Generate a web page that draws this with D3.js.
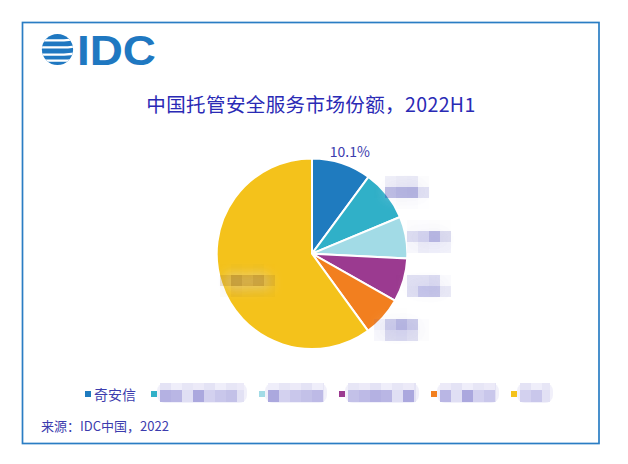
<!DOCTYPE html>
<html>
<head>
<meta charset="utf-8">
<script src="https://cdn.jsdelivr.net/npm/d3@7"></script>
<style>
  body { margin: 0; background: #fff; }
  text { font-family: "Noto Sans CJK SC", "Noto Sans", sans-serif; }
</style>
</head>
<body>
<div id="chart"></div>
<script>
// China managed security services market share, 2022H1 (IDC)
// only the first vendor is readable in the source, the other names are blurred
var vendors = ["奇安信", null, null, null, null, null];
var shares = [10.1, 8.6, 7.1, 7.4, 6.8, 60.0];
var colors = ["#1f7bbf", "#30b0c8", "#a2dbe6", "#9b3a90", "#f27f1f", "#f4c21b"];
var chartTitle = "中国托管安全服务市场份额，2022H1";
var sourceNote = "来源：IDC中国，2022";

// widths of the blurred legend names (px)
var legendMaskWidths = [0, 84, 56, 68, 56, 30];


PieChart = function(_parentElement, _data){
	this.parentElement = _parentElement;
	this.data = _data;
	this.initVis();
}

PieChart.prototype.initVis = function(){
	var vis = this;

	vis.width = 628;
	vis.height = 464;
	vis.cx = 312;
	vis.cy = 253.7;
	vis.radius = 95.3;
	vis.textColor = "#3c3cae";

	vis.svg = d3.select("#" + vis.parentElement).append("svg")
		.attr("width", vis.width)
		.attr("height", vis.height);

	var defs = vis.svg.append("defs");

	// pixelate filter for the blurred labels (grid of 11px blocks)
	var f = defs.append("filter")
		.attr("id", "mosaic")
		.attr("filterUnits", "userSpaceOnUse")
		.attr("x", 0).attr("y", 0)
		.attr("width", vis.width).attr("height", vis.height)
		.attr("color-interpolation-filters", "sRGB");
	f.append("feGaussianBlur").attr("in", "SourceGraphic").attr("stdDeviation", 4.2).attr("result", "soft0");
	var boost = f.append("feComponentTransfer").attr("in", "soft0").attr("result", "soft");
	boost.append("feFuncA").attr("type", "linear").attr("slope", 1.8);
	f.append("feFlood").attr("x", 5).attr("y", 5).attr("width", 1).attr("height", 1)
		.attr("flood-color", "#000").attr("result", "dot");
	f.append("feOffset").attr("in", "dot").attr("x", 0).attr("y", 0)
		.attr("width", 11).attr("height", 11).attr("result", "cell");
	f.append("feTile").attr("in", "cell").attr("result", "grid");
	f.append("feComposite").attr("in", "soft").attr("in2", "grid").attr("operator", "in").attr("result", "picked");
	f.append("feMorphology").attr("in", "picked").attr("operator", "dilate").attr("radius", 5).attr("result", "blocks");
	f.append("feGaussianBlur").attr("in", "SourceAlpha").attr("stdDeviation", 7).attr("result", "haloA0");
	var hb = f.append("feComponentTransfer").attr("in", "haloA0").attr("result", "haloA");
	hb.append("feFuncA").attr("type", "linear").attr("slope", 3);
	f.append("feFlood").attr("flood-color", "#e6e5f5").attr("flood-opacity", 0.7).attr("result", "haloC");
	f.append("feComposite").attr("in", "haloC").attr("in2", "haloA").attr("operator", "in").attr("result", "halo");
	var merge = f.append("feMerge");
	merge.append("feMergeNode").attr("in", "halo");
	merge.append("feMergeNode").attr("in", "blocks");

	// outer frame
	vis.svg.append("rect")
		.attr("x", 22.5).attr("y", 22.5)
		.attr("width", 576.5).attr("height", 421)
		.attr("fill", "none")
		.attr("stroke", "#2a7dc4")
		.attr("stroke-width", 1.7);

	// IDC logo
	var logo = vis.svg.append("g").attr("class", "logo");
	defs.append("clipPath").attr("id", "globeClip")
		.append("circle").attr("cx", 57.5).attr("cy", 49.5).attr("r", 15.6);
	var globe = logo.append("g").attr("clip-path", "url(#globeClip)");
	globe.append("rect").attr("x", 40).attr("y", 32).attr("width", 36).attr("height", 36).attr("fill", "#1f78c1");
	[40.3, 47.4, 54.6, 60.6].forEach(function(y, i){
		globe.append("path")
			.attr("d", "M38," + y + " L" + (64 + (i % 2) * 4) + "," + y + " L78," + (y - 1.2))
			.attr("stroke", "#fff")
			.attr("stroke-width", 2.3)
			.attr("fill", "none");
	});
	logo.append("text")
		.attr("x", 77).attr("y", 64.7)
		.attr("textLength", 79)
		.attr("lengthAdjust", "spacingAndGlyphs")
		.style("font-family", "'Liberation Sans', Arial, sans-serif")
		.style("font-weight", "bold")
		.style("font-size", "42px")
		.attr("fill", "#1f78c1")
		.text("IDC");

	// title and source
	vis.svg.append("text")
		.attr("x", 311).attr("y", 112)
		.attr("text-anchor", "middle")
		.style("font-size", "19.5px")
		.style("letter-spacing", "0.4px")
		.attr("fill", "#2a2ab5")
		.text(chartTitle);

	vis.svg.append("text")
		.attr("x", 41).attr("y", 430.5)
		.style("font-size", "13px")
		.attr("fill", vis.textColor)
		.text(sourceNote);

	vis.pieG = vis.svg.append("g")
		.attr("transform", "translate(" + vis.cx + "," + vis.cy + ")");

	vis.labelG = vis.svg.append("g").attr("class", "labels");
	vis.maskedG = vis.svg.append("g").attr("filter", "url(#mosaic)");
	vis.legendG = vis.svg.append("g").attr("class", "legend");

	vis.wrangleData();
}

PieChart.prototype.wrangleData = function(){
	var vis = this;

	vis.pie = d3.pie()
		.sort(null)
		.value(function(d) { return d.share; });

	vis.arcs = vis.pie(vis.data);
	vis.updateVis();
}

PieChart.prototype.updateVis = function(){
	var vis = this;

	var arc = d3.arc().innerRadius(0).outerRadius(vis.radius);

	vis.pieG.selectAll("path.slice")
		.data(vis.arcs)
		.enter().append("path")
		.attr("class", "slice")
		.attr("d", arc)
		.attr("fill", function(d) { return d.data.color; })
		.attr("stroke", "#fff")
		.attr("stroke-width", 2);

	// percentage labels, the first is readable, the others blurred like the source
	vis.arcs.forEach(function(d, i){
		var a = (d.startAngle + d.endAngle) / 2;
		var s = Math.sin(a), c = -Math.cos(a);
		var parent = i === 0 ? vis.labelG : vis.maskedG;
		var t = parent.append("text")
			.attr("text-anchor", "middle")
			.style("font-size", i === 0 ? "14px" : "15px")
			.attr("fill", vis.textColor)
			.text(d3.format(".1f")(d.data.share) + "%");
		var x, y;
		if (d.data.share > 50) {
			// big slice: label inside
			x = vis.cx + s * vis.radius * 0.7;
			y = vis.cy + c * vis.radius * 0.7 + 13;
			t.attr("fill", "#9a6a10");
		} else {
			var w = t.node().getComputedTextLength();
			var px = vis.cx + s * (vis.radius + 6);
			var py = vis.cy + c * (vis.radius + 6);
			x = px + s * w / 2;
			y = py + c * 6 + (i === 0 ? 5 : 9);
		}
		t.attr("x", x).attr("y", y);
	});

	// legend
	var blockShades = ["#c9c7eb", "#b4b1e2", "#aba8de", "#c3c1e8", "#b9b6e4", "#d3d1ef", "#bdbae6", "#e0dff4"];
	var topShades = ["#eceaf8", "#e4e3f5", "#efeefa", "#e7e6f6"];
	var lx = 85, ly = 394;
	vis.data.forEach(function(d, i){
		var item = vis.legendG.append("g");
		item.append("rect")
			.attr("x", lx).attr("y", ly - 3)
			.attr("width", 6).attr("height", 6)
			.attr("fill", d.color);
		var w;
		if (d.name) {
			var t = item.append("text")
				.attr("x", lx + 9).attr("y", ly + 6)
				.style("font-size", "14px")
				.attr("fill", vis.textColor)
				.text(d.name);
			w = t.node().getComputedTextLength();
		} else {
			w = legendMaskWidths[i];
			var mx = lx + 9;
			item.append("rect")
				.attr("x", mx - 3).attr("y", ly - 11)
				.attr("width", w + 6).attr("height", 20)
				.attr("rx", 8)
				.attr("fill", "#f1f0fa");
			var n = Math.ceil(w / 11);
			for (var k = 0; k < n; k++) {
				var cw = Math.min(11, w - k * 11);
				item.append("rect")
					.attr("x", mx + k * 11).attr("y", ly - 11)
					.attr("width", cw).attr("height", 7)
					.attr("fill", topShades[(k + i) % topShades.length]);
				item.append("rect")
					.attr("x", mx + k * 11).attr("y", ly - 4)
					.attr("width", cw).attr("height", 12)
					.attr("fill", k === n - 1 ? "#e2e1f4" : blockShades[(k * 3 + i) % blockShades.length]);
			}
		}
		lx = lx + 9 + w + 15;
	});
}

var chartData = vendors.map(function(v, i){
	return { name: v, share: shares[i], color: colors[i] };
});

var chart = new PieChart("chart", chartData);
</script>
</body>
</html>
